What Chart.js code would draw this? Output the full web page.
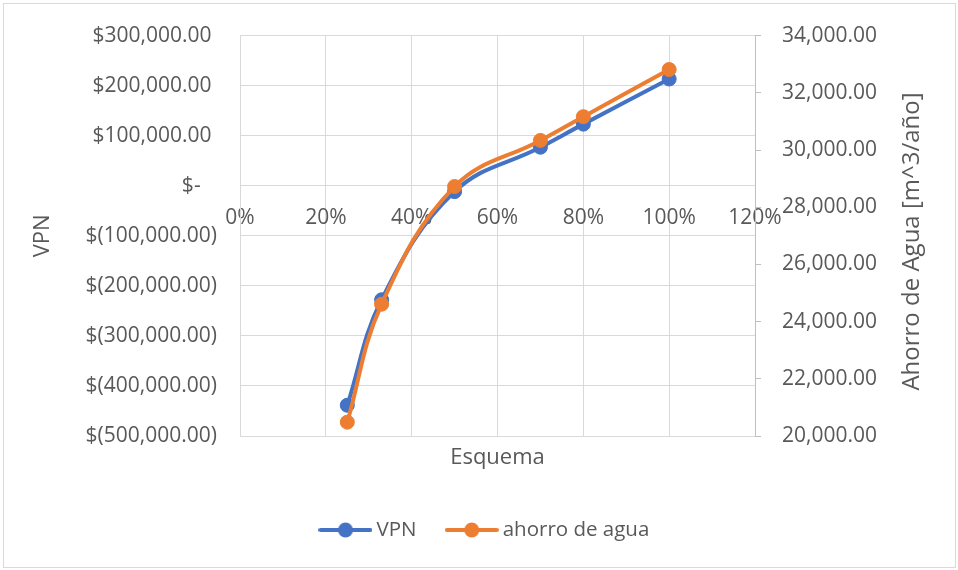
<!DOCTYPE html>
<html>
<head>
<meta charset="utf-8">
<script src="https://cdn.jsdelivr.net/npm/chart.js@4/dist/chart.umd.min.js"></script>
<style>
  html, body { margin: 0; padding: 0; background: #ffffff; }
  canvas { display: block; }
</style>
</head>
<body>
<canvas id="chart" width="958" height="570"></canvas>
<script>
// Scheme share (x) and the two measured series
const esquema = [0.25, 0.33, 0.50, 0.70, 0.80, 1.00];
const vpn = [-438500, -227800, -11800, 77000, 123100, 213300];
const ahorroAgua = [20484, 24609, 28722, 30335, 31165, 32813];

const seriesNames = ['VPN', 'ahorro de agua'];
const axisTitles = { x: 'Esquema', y: 'VPN', y2: 'Ahorro de Agua [m^3/año]' };

// Axis ranges: [min, max, step]
const esquemaRange = [0, 1.2, 0.2];
const vpnRange = [-500000, 300000, 100000];
const aguaRange = [20000, 34000, 2000];

const BLUE = '#4472C4';
const ORANGE = '#ED7D31';
const TEXT = '#595959';
const GRID = '#D9D9D9';
const AXIS = '#BFBFBF';
const FONT = "'Open Sans', sans-serif";

function thousands(n) {
  const parts = Math.abs(n).toFixed(2).split('.');
  return parts[0].replace(/\B(?=(\d{3})+(?!\d))/g, ',') + '.' + parts[1];
}
// Accounting style: $1,000.00 / $(1,000.00) / $-
function money(v) {
  if (Math.abs(v) < 0.5) return '$-   ';
  return v < 0 ? '$(' + thousands(v) + ')' : '$' + thousands(v) + ' ';
}

// Legend swatch: short line with a marker in the middle
function legendSwatch(color) {
  const c = document.createElement('canvas');
  c.width = 54; c.height = 16;
  const g = c.getContext('2d');
  g.strokeStyle = color; g.lineWidth = 4; g.lineCap = 'round';
  g.beginPath(); g.moveTo(2, 8); g.lineTo(52, 8); g.stroke();
  g.fillStyle = color;
  g.beginPath(); g.arc(27, 8, 7.5, 0, Math.PI * 2); g.fill();
  return c;
}
const swatches = [legendSwatch(BLUE), legendSwatch(ORANGE)];

const frameAndSideTitle = {
  id: 'frameAndSideTitle',
  beforeDraw(chart) {
    const ctx = chart.ctx;
    ctx.save();
    ctx.fillStyle = '#ffffff';
    ctx.fillRect(0, 0, chart.width, chart.height);
    ctx.strokeStyle = GRID;
    ctx.lineWidth = 1;
    ctx.strokeRect(3.5, 3.5, chart.width - 6, chart.height - 6);
    ctx.restore();
  },
  afterDraw(chart) {
    const ctx = chart.ctx;
    ctx.save();
    ctx.translate(912, 241.5);
    ctx.rotate(-Math.PI / 2);
    ctx.font = '24px ' + FONT;
    ctx.fillStyle = TEXT;
    ctx.textAlign = 'center';
    ctx.textBaseline = 'middle';
    ctx.fillText(axisTitles.y2, 0, 0);
    ctx.restore();
  }
};

const lineStyle = (color) => ({
  borderColor: color,
  backgroundColor: color,
  borderWidth: 4,
  borderCapStyle: 'round',
  borderJoinStyle: 'round',
  pointRadius: 7,
  pointBorderWidth: 1,
  pointBackgroundColor: color,
  pointBorderColor: color,
  tension: 0.4,
  fill: false
});

new Chart(document.getElementById('chart'), {
  type: 'line',
  data: {
    datasets: [
      Object.assign({
        label: seriesNames[0],
        data: esquema.map((x, i) => ({ x: x, y: vpn[i] })),
        yAxisID: 'y',
        order: 1
      }, lineStyle(BLUE)),
      Object.assign({
        label: seriesNames[1],
        data: esquema.map((x, i) => ({ x: x, y: ahorroAgua[i] })),
        yAxisID: 'y2',
        order: 0
      }, lineStyle(ORANGE))
    ]
  },
  options: {
    responsive: false,
    animation: false,
    devicePixelRatio: 1,
    layout: { padding: { left: 16, right: 0, top: 32, bottom: 19.75 } },
    scales: {
      x: {
        type: 'linear',
        position: { y: 0 },
        min: esquemaRange[0],
        max: esquemaRange[1],
        ticks: {
          stepSize: esquemaRange[2],
          autoSkip: false,
          maxRotation: 0,
          padding: 20,
          color: TEXT,
          font: { family: FONT, size: 21 },
          callback: (v) => Math.round(v * 100) + '%'
        },
        grid: { color: GRID, drawTicks: false },
        border: { color: GRID }
      },
      y: {
        position: 'left',
        min: vpnRange[0],
        max: vpnRange[1],
        ticks: {
          stepSize: vpnRange[2],
          padding: 23,
          color: TEXT,
          font: { family: FONT, size: 21 },
          callback: (v) => money(v)
        },
        grid: { color: GRID, drawTicks: false },
        border: { color: GRID },
        title: {
          display: true,
          text: axisTitles.y,
          color: TEXT,
          font: { family: FONT, size: 22 },
          padding: { top: 13.8, bottom: 0 }
        },
        afterFit: (s) => { s.width = 224; }
      },
      y2: {
        position: 'right',
        min: aguaRange[0],
        max: aguaRange[1],
        ticks: {
          stepSize: aguaRange[2],
          padding: 21,
          color: TEXT,
          font: { family: FONT, size: 21 },
          callback: (v) => thousands(v)
        },
        grid: { drawOnChartArea: false, drawTicks: true, tickLength: 6, color: AXIS },
        border: { color: AXIS },
        afterFit: (s) => { s.width = 203; }
      }
    },
    plugins: {
      tooltip: { enabled: false },
      title: {
        display: true,
        text: axisTitles.x,
        position: 'bottom',
        fullSize: false,
        weight: 100,
        color: TEXT,
        font: { family: FONT, size: 22, weight: 'normal' },
        padding: { top: 9, bottom: 13.85 }
      },
      legend: {
        position: 'bottom',
        labels: {
          usePointStyle: true,
          pointStyleWidth: 41.5,
          padding: 34.5,
          color: TEXT,
          font: { family: FONT, size: 20.5 },
          sort: (a, b) => a.datasetIndex - b.datasetIndex,
          generateLabels: (chart) => chart.data.datasets.map((ds, i) => ({
            text: ds.label,
            datasetIndex: i,
            pointStyle: swatches[i],
            fillStyle: 'transparent',
            strokeStyle: 'transparent',
            lineWidth: 0,
            fontColor: TEXT,
            hidden: !chart.isDatasetVisible(i)
          }))
        }
      }
    }
  },
  plugins: [frameAndSideTitle]
});
</script>
</body>
</html>
